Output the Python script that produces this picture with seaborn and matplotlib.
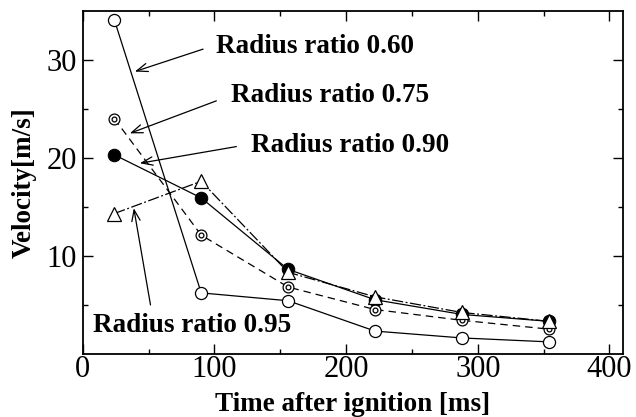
import matplotlib
matplotlib.use("Agg")
import matplotlib.pyplot as plt
import seaborn as sns
import numpy as np

# ---- data ----
time_ms = [24, 90, 156, 222, 288, 354]
ratio_060 = [34.1, 6.2, 5.4, 2.3, 1.6, 1.2]
ratio_075 = [24.0, 12.1, 6.8, 4.5, 3.4, 2.5]
ratio_090 = [20.3, 15.9, 8.6, 5.5, 4.0, 3.3]
ratio_095 = [14.3, 17.6, 8.3, 5.8, 4.2, 3.3]

labels = ["Radius ratio 0.60", "Radius ratio 0.75", "Radius ratio 0.90", "Radius ratio 0.95"]
xticks = [0, 100, 200, 300, 400]
yticks = [10, 20, 30]

sns.set_style("ticks")
plt.rcParams["font.family"] = ["Liberation Serif", "DejaVu Serif"]
plt.rcParams["text.color"] = "black"
plt.rcParams["axes.labelcolor"] = "black"
plt.rcParams["xtick.color"] = "black"
plt.rcParams["ytick.color"] = "black"

fig = plt.figure(figsize=(6.36, 4.17), dpi=100)
ax = fig.add_axes([0.130, 0.152, 0.849, 0.822])

lw = 0.9
# 0.60 open circles, solid
sns.lineplot(x=time_ms, y=ratio_060, ax=ax, color="black", lw=lw, linestyle="-",
             marker="o", markersize=8.7, markerfacecolor="white", markeredgecolor="black",
             markeredgewidth=0.9, zorder=3)
# 0.75 double circles, dashed
sns.lineplot(x=time_ms, y=ratio_075, ax=ax, color="black", lw=lw, linestyle=(0, (6, 4)),
             marker="o", markersize=7.8, markerfacecolor="white", markeredgecolor="black",
             markeredgewidth=0.9, zorder=4)
sns.scatterplot(x=time_ms, y=ratio_075, ax=ax, s=12, marker="o", facecolor="white",
                edgecolor="black", linewidth=0.9, zorder=5)
# 0.90 filled circles, solid
sns.lineplot(x=time_ms, y=ratio_090, ax=ax, color="black", lw=lw, linestyle="-",
             marker="o", markersize=9, markerfacecolor="black", markeredgecolor="black",
             zorder=3)
# 0.95 open triangles, dash-dot
sns.lineplot(x=time_ms, y=ratio_095, ax=ax, color="black", lw=lw, linestyle=(0, (9, 2, 1.5, 2)),
             marker="^", markersize=10, markerfacecolor="white", markeredgecolor="black",
             markeredgewidth=0.9, zorder=6)

ax.set_xlim(0, 410)
ax.set_ylim(0, 35)
ax.set_xticks(xticks)
ax.set_xticks([50, 150, 250, 350], minor=True)
ax.set_yticks(yticks)
ax.set_yticks([5, 15, 25], minor=True)
ax.tick_params(axis="both", which="both", direction="in", top=True, right=True,
               color="black", width=1.0)
ax.tick_params(axis="both", which="major", length=7, labelsize=22, labelcolor="black")
ax.tick_params(axis="both", which="minor", length=3.8)
ax.tick_params(axis="x", which="major", pad=1)
ax.tick_params(axis="y", which="major", pad=4)
for sp in ax.spines.values():
    sp.set_visible(True)
    sp.set_color("black")
    sp.set_linewidth(1.3)

ax.set_xlabel("Time after ignition [ms]", fontsize=19.5, fontweight="bold", labelpad=6,
              color="black")
ax.set_ylabel("Velocity[m/s]", fontsize=19.5, fontweight="bold", labelpad=7,
              color="black")

# annotations: text and arrows
text_pos = [(101.0, 30.68), (112.9, 25.74), (128.0, 20.63), (7.6, 2.25)]
arrow_start = [(91.4, 31.09), (101.5, 25.81), (116.7, 21.14), (51.5, 4.97)]
arrow_head = [(39.6, 28.8), (35.8, 22.49), (43.4, 19.44), (38.8, 14.85)]
for lab, tp, st, hd in zip(labels, text_pos, arrow_start, arrow_head):
    ax.text(tp[0], tp[1], lab, fontsize=19.5, fontweight="bold", ha="left", va="baseline",
            color="black", zorder=7)
    ax.annotate("", xy=hd, xytext=st,
                arrowprops=dict(arrowstyle="->,head_length=0.8,head_width=0.3",
                                color="black", lw=0.9, shrinkA=0, shrinkB=0),
                zorder=7)

fig.savefig("out.png", dpi=100)
